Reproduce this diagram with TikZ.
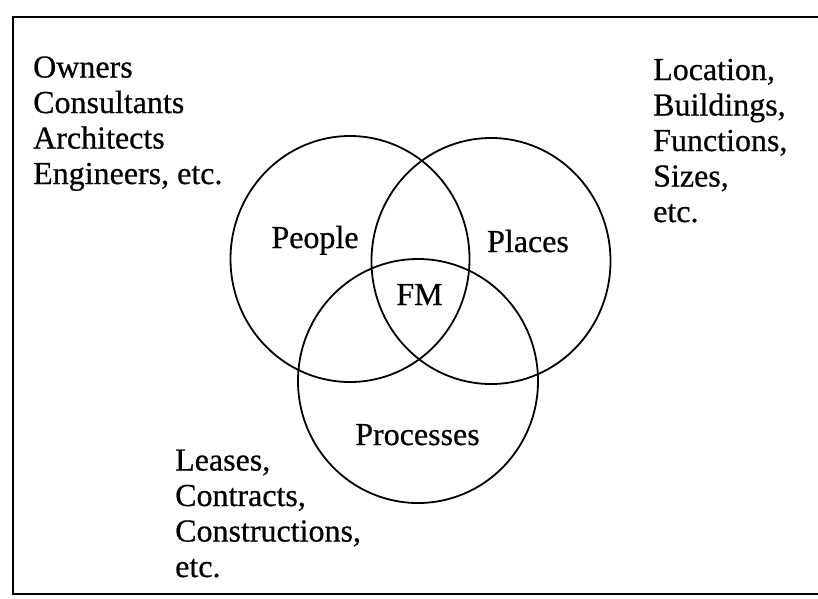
\documentclass[tikz,border=0pt]{standalone}
\usepackage{fontspec}
\setmainfont{Liberation Serif}
\newfontfamily\inkfont{Liberation Serif}[FakeBold=0.6]
\usetikzlibrary{shapes.geometric}
\tikzset{
    venn/.style={ellipse, draw, line width=1.8pt, inner sep=0pt, minimum width=239pt, minimum height=246pt},
    label_big/.style={font=\inkfont\fontsize{32}{35.5}\selectfont, inner sep=0pt},
    list_text/.style={label_big, align=left, anchor=base west}
}

\begin{document}
\begin{tikzpicture}[x=1pt, y=-1pt]
    \useasboundingbox (0,0) rectangle (818,598);
    % Outer frame
    \draw[line width=1.8pt] (13,17) rectangle (830,594);

    % Circles
    \node (people) [venn] at (350,259) {};
    \node (places) [venn] at (491,261) {};
    \node (processes) [venn, minimum width=240pt, minimum height=244pt] at (418,381) {};

    % Circle labels
    \node (people_lbl) [label_big, anchor=base] at (315,248) {People};
    \node (places_lbl) [label_big, anchor=base] at (528,252) {Places};
    \node (fm_lbl) [label_big, anchor=base] at (419.5,305) {FM};
    \node (processes_lbl) [label_big, anchor=base] at (417.5,445) {Processes};

    % Lists (placed by the baseline of their last line)
    \node (who) [list_text] at (33,184) {Owners\\Consultants\\Architects\\Engineers, etc.};
    \node (where) [list_text] at (653,222) {Location,\\Buildings,\\Functions,\\Sizes,\\etc.};
    \node (how) [list_text] at (175,577) {Leases,\\Contracts,\\Constructions,\\etc.};
\end{tikzpicture}
\end{document}
